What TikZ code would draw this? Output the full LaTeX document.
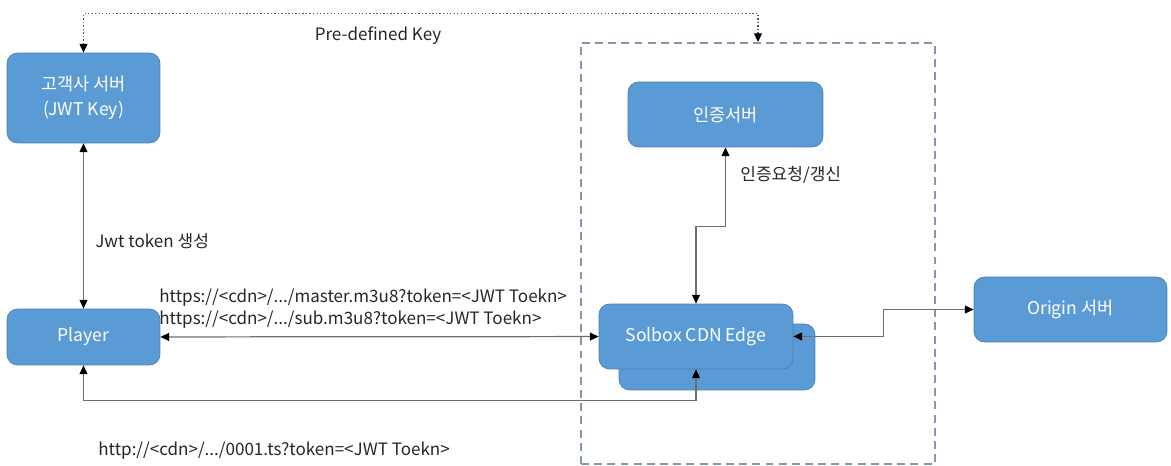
\documentclass[tikz,border=0pt]{standalone}
\usepackage{fontspec}
\setmainfont{Noto Sans CJK KR}
\usetikzlibrary{arrows.meta}
\definecolor{boxblue}{HTML}{5B9BD5}
\definecolor{boxedge}{HTML}{4A80B5}
\definecolor{zoneblue}{HTML}{8497B0}
\definecolor{linkgray}{HTML}{6F6F6F}
\definecolor{labelgray}{HTML}{262626}
\tikzset{server/.style={draw=boxedge, fill=boxblue, rounded corners=6pt, text=white, align=center, inner sep=0pt, font=\fontsize{10}{14}\selectfont}}
\tikzset{zone/.style={draw=zoneblue, line width=1.1pt, dash pattern=on 4.5pt off 3pt}}
\tikzset{tip/.tip={Triangle[length=5pt,width=4.5pt,color=black]}}
\tikzset{link/.style={draw=linkgray, line width=0.7pt, tip-tip}}
\tikzset{keyline/.style={draw=linkgray!80!black, line width=0.75pt, dash pattern=on 0.75pt off 1.25pt, tip-tip}}
\tikzset{note/.style={text=labelgray, inner sep=0pt, font=\fontsize{9.7}{12.5}\selectfont}}

\begin{document}
\begin{tikzpicture}[x=0.02cm, y=-0.02cm]
            \useasboundingbox (0,0) rectangle (1171,466);
            \node[zone, minimum width=7.08cm, minimum height=8.42cm] (zone) at (758,253.5) {};
            \node[server, minimum width=3.06cm, minimum height=1.8cm] (cust) at (83.5,98) {고객사 서버\\(JWT Key)};
            \node[server, minimum width=3.06cm, minimum height=1.12cm] (player) at (83.5,337) {Player};
            \node[server, minimum width=3.9cm, minimum height=1.3cm] (auth) at (725.5,114.5) {인증서버};
            \node[server, minimum width=3.92cm, minimum height=1.32cm] (edgeback) at (717,357) {};
            \node[server, minimum width=3.88cm, minimum height=1.3cm] (edge) at (696,336.5) {Solbox CDN Edge};
            \node[server, minimum width=3.86cm, minimum height=1.3cm] (origin) at (1070.5,309.5) {Origin 서버};
            \draw[keyline] (cust.north) -- ++(0,-39) -| (zone.north);
            \draw[link] (cust) -- (player);
            \draw[link] (player) -- (edge);
            \draw[link] (auth.south) -- ++(0,79) -| (edge.north);
            \draw[link] (player.south) -- ++(0,35) -| (edge.south);
            \draw[link] (edge.east) -- ++(90,0) |- (origin.west);
            \node[note] (keylabel) at (378,36) {Pre-defined Key};
            \node[note, anchor=west] (jwtlabel) at (95,241) {Jwt token 생성};
            \node[note, anchor=west] (authlabel) at (740,175) {인증요청/갱신};
            \node[note, anchor=south west, align=left] (m3u8label) at (159,329) {https://<cdn>/.../master.m3u8?token=<JWT Toekn>\\https://<cdn>/.../sub.m3u8?token=<JWT Toekn>};
            \node[note, anchor=west] (tslabel) at (98,451) {http://<cdn>/.../0001.ts?token=<JWT Toekn>};
        \end{tikzpicture}
\end{document}
